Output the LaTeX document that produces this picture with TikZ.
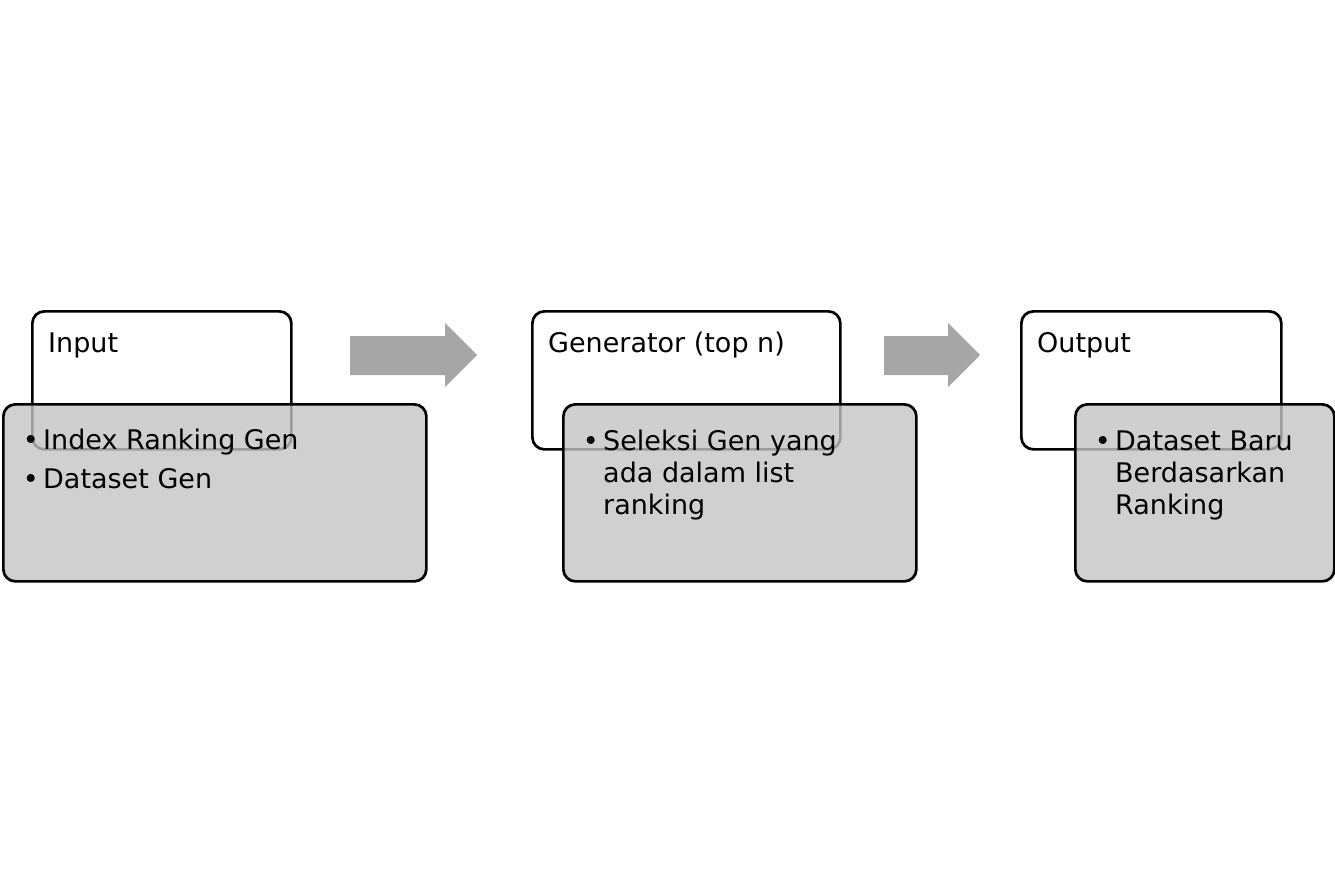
\documentclass[tikz,border=0pt]{standalone}
\usepackage{fontspec}
\setmainfont{DejaVu Sans}
\definecolor{boxgray}{RGB}{196,196,196}
\definecolor{arrowgray}{RGB}{166,166,166}
\begin{document}
\begin{tikzpicture}[x=1pt,y=-1pt,
  titlebox/.style={draw=black, line width=2.7pt, rounded corners=12pt, fill=white, inner sep=0pt, anchor=north west},
  bodybox/.style={draw=black, line width=2.7pt, rounded corners=12pt, fill=boxgray, fill opacity=0.8, inner sep=0pt, anchor=north west},
  lbl/.style={anchor=base west, inner sep=0pt, font=\fontsize{27}{32}\selectfont, align=left},
  blockarrow/.style={fill=arrowgray, draw=none}]
\useasboundingbox (0,0) rectangle (1335,889);
% group 1
\node[titlebox, minimum width=259pt, minimum height=138pt] (t1) at (31,310) {};
\node[bodybox, minimum width=423pt, minimum height=177pt] (b1) at (2,403) {};
\node[lbl] (l1) at (48,352) {Input};
\node[lbl] (i1) at (43,488) {\llap{\textbullet\,}Index Ranking Gen\\[7pt]\llap{\textbullet\,}Dataset Gen};
% arrow 1
\fill[blockarrow] (350,336) -- (445,336) -- (445,323) -- (477,355) -- (445,387) -- (445,375) -- (350,375) -- cycle;
% group 2
\node[titlebox, minimum width=308pt, minimum height=138pt] (t2) at (531,310) {};
\node[bodybox, minimum width=353pt, minimum height=177pt] (b2) at (562,403) {};
\node[lbl] (l2) at (548,352) {Generator (top n)};
\node[lbl] (i2) at (603,514) {\llap{\textbullet\,}Seleksi Gen yang\\ada dalam list\\ranking};
% arrow 2
\fill[blockarrow] (884,336) -- (948,336) -- (948,323) -- (980,355) -- (948,387) -- (948,375) -- (884,375) -- cycle;
% group 3
\node[titlebox, minimum width=260pt, minimum height=138pt] (t3) at (1020,310) {};
\node[bodybox, minimum width=259pt, minimum height=177pt] (b3) at (1074,403) {};
\node[lbl] (l3) at (1037,352) {Output};
\node[lbl] (i3) at (1115,514) {\llap{\textbullet\,}Dataset Baru\\Berdasarkan\\Ranking};
\end{tikzpicture}
\end{document}
